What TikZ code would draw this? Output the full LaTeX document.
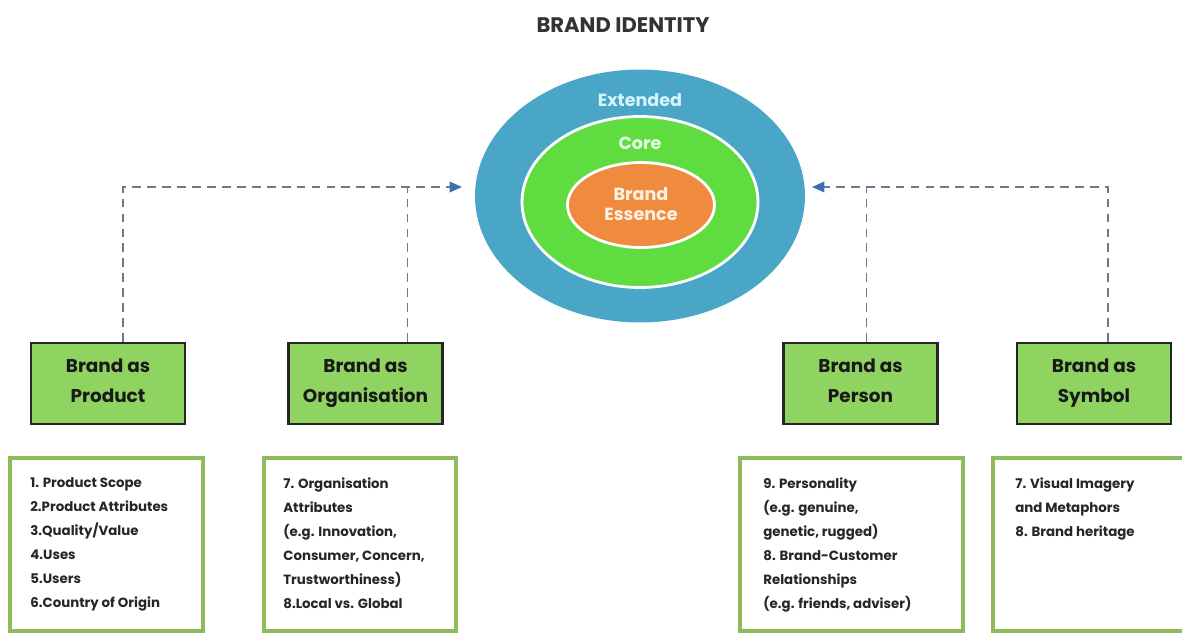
\documentclass[tikz,border=0pt]{standalone}
\usepackage{fontspec}
\setmainfont{Poppins}
\usetikzlibrary{shapes.geometric,arrows.meta,calc}

\definecolor{extblue}{HTML}{4AA6C6}
\definecolor{coregreen}{HTML}{5EDC40}
\definecolor{essorange}{HTML}{F08A3E}
\definecolor{headgreen}{HTML}{8FD460}
\definecolor{listgreen}{HTML}{8DBA5A}
\definecolor{dashgrey}{HTML}{6A7A92}
\definecolor{tipblue}{HTML}{3F6FB0}

\tikzset{
  ring/.style={ellipse,draw=white,line width=1.6pt,inner sep=0pt},
  headbox/.style={draw=black!85,line width=1.3pt,fill=headgreen,minimum width=3.08cm,
    minimum height=1.62cm,align=center,font=\fontsize{10.5}{17}\selectfont\bfseries,text=black!90,
    execute at begin node=\rule{0pt}{15pt},execute at end node=\vphantom{g}},
  listtext/.style={anchor=north west,inner sep=0pt,align=left,
    font=\fontsize{7.6}{13.7}\selectfont\bfseries,text=black!85},
  link/.style={dashgrey,line width=1pt,dash pattern=on 5pt off 3.5pt},
  tip/.style={-{Triangle[length=7pt,width=6pt,color=tipblue]}}
}

\begin{document}
\begin{tikzpicture}[x=0.02cm,y=-0.02cm]
\useasboundingbox (0,0) rectangle (1182,633);

\node[text=black!80] (title) at (623,25) {\fontsize{12}{14}\selectfont\bfseries BRAND IDENTITY};

% identity rings
\node[ring,fill=extblue,draw=none,minimum width=6.6cm,minimum height=5.06cm] (ext) at (640,196) {};
\node[ring,fill=coregreen,minimum width=4.72cm,minimum height=3.42cm] (core) at (640,202) {};
\node[ring,fill=essorange,minimum width=2.94cm,minimum height=1.7cm] (ess) at (641,205) {};
\node[text=cyan!15,font=\fontsize{10}{12}\selectfont\bfseries] (extlbl) at (640,100) {Extended};
\node[text=green!10,font=\fontsize{10}{12}\selectfont\bfseries] (corelbl) at (640,143) {Core};
\node[text=orange!10,align=center,font=\fontsize{10}{11.5}\selectfont\bfseries] (esslbl) at (641,204) {Brand\\Essence};

% the four views
\node[headbox] (prod) at (108,383.5) {Brand as\\Product};
\node[headbox] (org) at (365.5,383.5) {Brand as\\Organisation};
\node[headbox] (pers) at (860.5,383.5) {Brand as\\Person};
\node[headbox] (sym) at (1094,383.5) {Brand as\\Symbol};

\coordinate (ltip) at (462,187);
\coordinate (rtip) at (812,187);

\draw[link,tip] ([xshift=0.3cm]prod.north) |- (ltip);
\draw[link] ([xshift=0.84cm]org.north) -- ([xshift=0.84cm]org.north |- ltip);
\draw[link,tip] ([xshift=0.28cm]sym.north) |- (rtip);
\draw[link] ([xshift=0.12cm]pers.north) -- ([xshift=0.12cm]pers.north |- rtip);

% detail boxes
\draw[listgreen,line width=2.8pt] (10,458) rectangle (203,631);
\draw[listgreen,line width=2.8pt] (264,458) rectangle (456,631);
\draw[listgreen,line width=2.8pt] (740,458) rectangle (963,631);
\draw[listgreen,line width=2.8pt] (993,458) rectangle (1190,631);

\node[listtext] (prodlist) at (30,477) {1. Product Scope\\2.Product Attributes\\3.Quality/Value\\4.Uses\\5.Users\\6.Country of Origin};
\node[listtext] (orglist) at (283,477) {7. Organisation\\Attributes\\(e.g. Innovation,\\Consumer, Concern,\\Trustworthiness)\\8.Local vs. Global};
\node[listtext] (perslist) at (763,477) {9. Personality\\(e.g. genuine,\\genetic, rugged)\\8. Brand-Customer\\Relationships\\(e.g. friends, adviser)};
\node[listtext] (symlist) at (1015,477) {7. Visual Imagery\\and Metaphors\\8. Brand heritage};
\end{tikzpicture}
\end{document}
